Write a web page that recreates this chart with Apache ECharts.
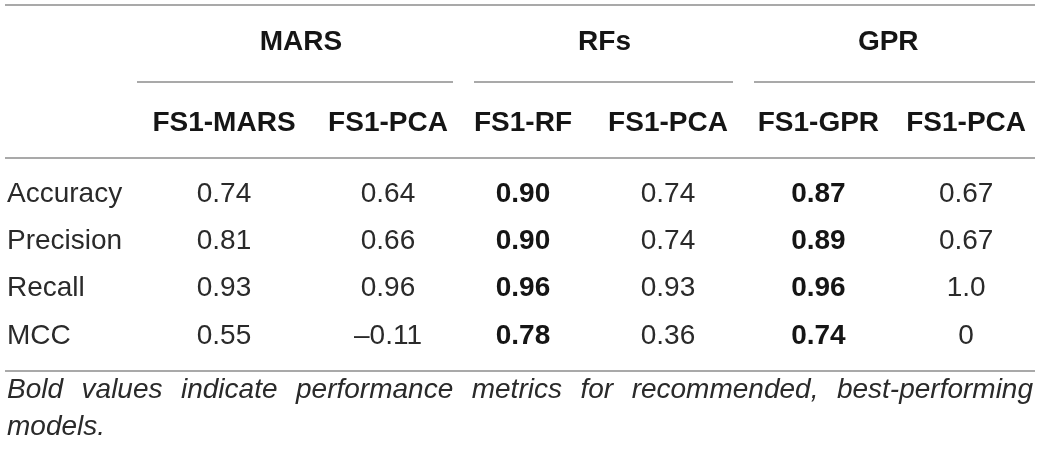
<!DOCTYPE html>
<html><head><meta charset="utf-8">
<script src="https://cdn.jsdelivr.net/npm/echarts@6/dist/echarts.min.js"></script>
<style>html,body{margin:0;padding:0;background:#fff}#c{width:1040px;height:452px}</style>
</head><body><div id="c"></div>
<script>
// ---- data ----
const groups = ['MARS', 'RFs', 'GPR'];
const columns = ['FS1-MARS', 'FS1-PCA', 'FS1-RF', 'FS1-PCA', 'FS1-GPR', 'FS1-PCA'];
const metrics = ['Accuracy', 'Precision', 'Recall', 'MCC'];
const marsFs1 = ['0.74', '0.81', '0.93', '0.55'];
const marsPca = ['0.64', '0.66', '0.96', '\u20130.11'];
const rfFs1 = ['0.90', '0.90', '0.96', '0.78'];
const rfPca = ['0.74', '0.74', '0.93', '0.36'];
const gprFs1 = ['0.87', '0.89', '0.96', '0.74'];
const gprPca = ['0.67', '0.67', '1.0', '0'];
const boldColumns = [false, false, true, false, true, false];
const footnote = 'Bold values indicate performance metrics for recommended, best-performing models.';

// ---- layout / style ----
const FONT = '"Liberation Sans", Arial, Helvetica, sans-serif';
const FS = 28;
const TXT = '#2a2a2a';
const BOLDTXT = '#151515';
const RULE = '#8c8c8c';
const colValues = [marsFs1, marsPca, rfFs1, rfPca, gprFs1, gprPca];

const gridTop = 170.4, gridHeight = 189.2;
// per group: [left, width] (two column bands each)
const groupBoxes = [[142, 328], [450.5, 290], [744.5, 302]];
// small horizontal nudges of the group header text [left pad, right pad]
const headerPads = [[0, 10], [18, 0], [0, 8]];

const grids = groupBoxes.map(b => ({ left: b[0], top: gridTop, width: b[1], height: gridHeight }));

const xAxes = groups.map((g, gi) => ({
  gridIndex: gi, type: 'category', position: 'top',
  data: [0, 1].map(k => (gi * 2 + k) + '|' + columns[gi * 2 + k]),
  name: g, nameLocation: 'middle', nameGap: 128.4,
  nameTextStyle: {
    fontFamily: FONT, fontSize: FS, fontWeight: 'bold', color: BOLDTXT, verticalAlign: 'middle',
    padding: [0, headerPads[gi][1], 0, headerPads[gi][0]]
  },
  axisLine: { show: false }, axisTick: { show: false }, splitLine: { show: false },
  axisLabel: {
    formatter: v => v.split('|')[1], interval: 0, margin: 47.5,
    verticalAlign: 'middle', fontFamily: FONT, fontSize: FS, fontWeight: 'bold', color: BOLDTXT
  }
}));

const yAxes = groups.map((g, gi) => ({
  gridIndex: gi, type: 'category', inverse: true, data: metrics,
  axisLine: { show: false }, axisTick: { show: false }, splitLine: { show: false },
  axisLabel: {
    show: gi === 0, interval: 0, align: 'left', margin: groupBoxes[0][0] - 7,
    fontFamily: FONT, fontSize: FS, color: TXT
  }
}));

const series = colValues.map((vals, ci) => ({
  type: 'scatter',
  xAxisIndex: Math.floor(ci / 2), yAxisIndex: Math.floor(ci / 2),
  symbolSize: 0,
  silent: true,
  itemStyle: { opacity: 1 },
  data: vals.map((v, ri) => ({
    value: [ci % 2, ri],
    label: {
      show: true, position: 'inside', formatter: v,
      fontFamily: FONT, fontSize: FS,
      fontWeight: boldColumns[ci] ? 'bold' : 'normal',
      color: boldColumns[ci] ? BOLDTXT : TXT,
      textBorderWidth: 0
    }
  }))
}));

// justified footnote
function footnoteGraphics() {
  const ctx = document.createElement('canvas').getContext('2d');
  const fnFont = 'italic ' + FS + 'px ' + FONT;
  ctx.font = fnFont;
  const words = footnote.split(' ');
  const left = 7, right = 1033, maxW = right - left;
  const space = ctx.measureText(' ').width;
  const lines = [];
  let cur = [], curW = 0;
  words.forEach(w => {
    const ww = ctx.measureText(w).width;
    const add = cur.length ? space + ww : ww;
    if (cur.length && curW + add > maxW) { lines.push(cur); cur = [w]; curW = ww; }
    else { cur.push(w); curW += add; }
  });
  if (cur.length) lines.push(cur);
  const out = [];
  const ys = [390, 427.5];
  lines.forEach((ln, li) => {
    const widths = ln.map(w => ctx.measureText(w).width);
    const sum = widths.reduce((a, b) => a + b, 0);
    const last = li === lines.length - 1;
    const gap = (!last && ln.length > 1) ? (maxW - sum) / (ln.length - 1) : space;
    let x = left;
    ln.forEach((w, wi) => {
      out.push({
        type: 'text', x: x, y: ys[li] !== undefined ? ys[li] : 390 + li * 37,
        style: { text: w, font: fnFont, fill: TXT, verticalAlign: 'middle', align: 'left' },
        silent: true
      });
      x += widths[wi] + gap;
    });
  });
  return out;
}

function rule(x1, x2, y) {
  return { type: 'line', shape: { x1: x1, y1: y, x2: x2, y2: y }, style: { stroke: RULE, lineWidth: 1.5 }, silent: true };
}

const option = {
  backgroundColor: '#fff',
  animation: false,
  grid: grids,
  xAxis: xAxes,
  yAxis: yAxes,
  series: series,
  graphic: [
    rule(5, 1035, 5),
    rule(137, 453, 82),
    rule(474, 733, 82),
    rule(754, 1035, 82),
    rule(5, 1035, 158),
    rule(5, 1035, 371)
  ].concat(footnoteGraphics())
};

const chart = echarts.init(document.getElementById('c'), null, { renderer: 'canvas' });
chart.setOption(option);
</script>
</body></html>
